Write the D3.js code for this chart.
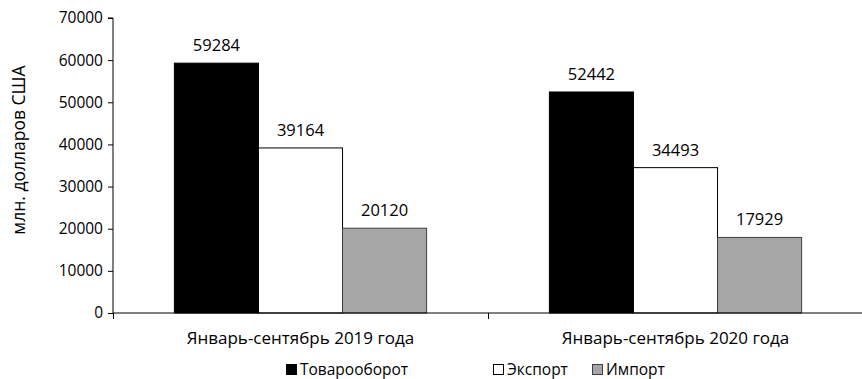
<!DOCTYPE html>
<html><head><meta charset="utf-8">
<script src="https://cdn.jsdelivr.net/npm/d3@7"></script>
<style>body{margin:0;background:#fff}svg{display:block}text{font-family:"Open Sans","Noto Sans",sans-serif;fill:#000}</style>
</head><body><svg id="chart" width="862" height="379"></svg>
<script>
const categories = ["Январь-сентябрь 2019 года", "Январь-сентябрь 2020 года"];
const seriesNames = ["Товарооборот", "Экспорт", "Импорт"];
const turnover = [59284, 52442];
const exports = [39164, 34493];
const imports = [20120, 17929];
const yTicks = [0, 10000, 20000, 30000, 40000, 50000, 60000, 70000];
const yTitle = "млн. долларов США";

const fills = ["#000000", "#ffffff", "#a6a6a6"];
const strokes = ["#000000", "#000000", "#404040"];
const values = [turnover, exports, imports];

const svg = d3.select("#chart");
const m = {left: 113, right: 863, top: 18, bottom: 313};

const x = d3.scaleBand().domain(categories).range([m.left, m.right]).paddingInner(0).paddingOuter(0);
const xs = d3.scaleBand().domain(seriesNames).range([0, x.bandwidth()]).paddingOuter(0.73).paddingInner(0);
const y = d3.scaleLinear().domain([0, 70000]).range([m.bottom, m.top]);

// bars with value labels
categories.forEach((c, ci) => {
  seriesNames.forEach((s, si) => {
    const v = values[si][ci];
    svg.append("rect")
      .attr("x", x(c) + xs(s)).attr("y", y(v))
      .attr("width", xs.bandwidth()).attr("height", y(0) - y(v))
      .attr("fill", fills[si]).attr("stroke", strokes[si]).attr("stroke-width", 1);
    svg.append("text")
      .attr("x", x(c) + xs(s) + xs.bandwidth() / 2).attr("y", y(v) - 12)
      .attr("text-anchor", "middle").attr("font-size", 16.5)
      .text(v);
  });
});

// y axis
const yAxis = d3.axisLeft(y).tickValues(yTicks).tickSize(5).tickPadding(5).tickFormat(d3.format("d"));
const gy = svg.append("g").attr("transform", `translate(${m.left},0)`).call(yAxis);
gy.select(".domain").attr("stroke", "#000").attr("d", `M-5,${m.top}H0V${m.bottom}`);
gy.selectAll("text").attr("font-size", 15.5).attr("font-family", '"Open Sans","Noto Sans",sans-serif');

// x axis
const gx = svg.append("g").attr("transform", `translate(0,${m.bottom})`);
gx.append("line").attr("x1", m.left).attr("x2", m.right).attr("stroke", "#000");
const tickX = categories.map(c => x(c)).concat([x(categories[categories.length - 1]) + x.bandwidth()]);
tickX.forEach(t => gx.append("line").attr("x1", t + 0.5).attr("x2", t + 0.5).attr("y1", 0).attr("y2", 6).attr("stroke", "#000"));
categories.forEach(c => gx.append("text")
  .attr("x", x(c) + x.bandwidth() / 2).attr("y", 31)
  .attr("text-anchor", "middle").attr("font-size", 17).text(c));

// y title
svg.append("text")
  .attr("transform", "translate(25,150) rotate(-90)")
  .attr("text-anchor", "middle").attr("font-size", 17.5).text(yTitle);

// legend
const legendX = [286, 493, 592];
seriesNames.forEach((s, i) => {
  const g = svg.append("g").attr("transform", `translate(${legendX[i]},364)`);
  g.append("rect").attr("x", 0.5).attr("y", 0.5).attr("width", 10).attr("height", 10)
    .attr("fill", fills[i]).attr("stroke", strokes[i]);
  g.append("text").attr("x", 14).attr("y", 11).attr("font-size", 15.5).text(s);
});
</script></body></html>
